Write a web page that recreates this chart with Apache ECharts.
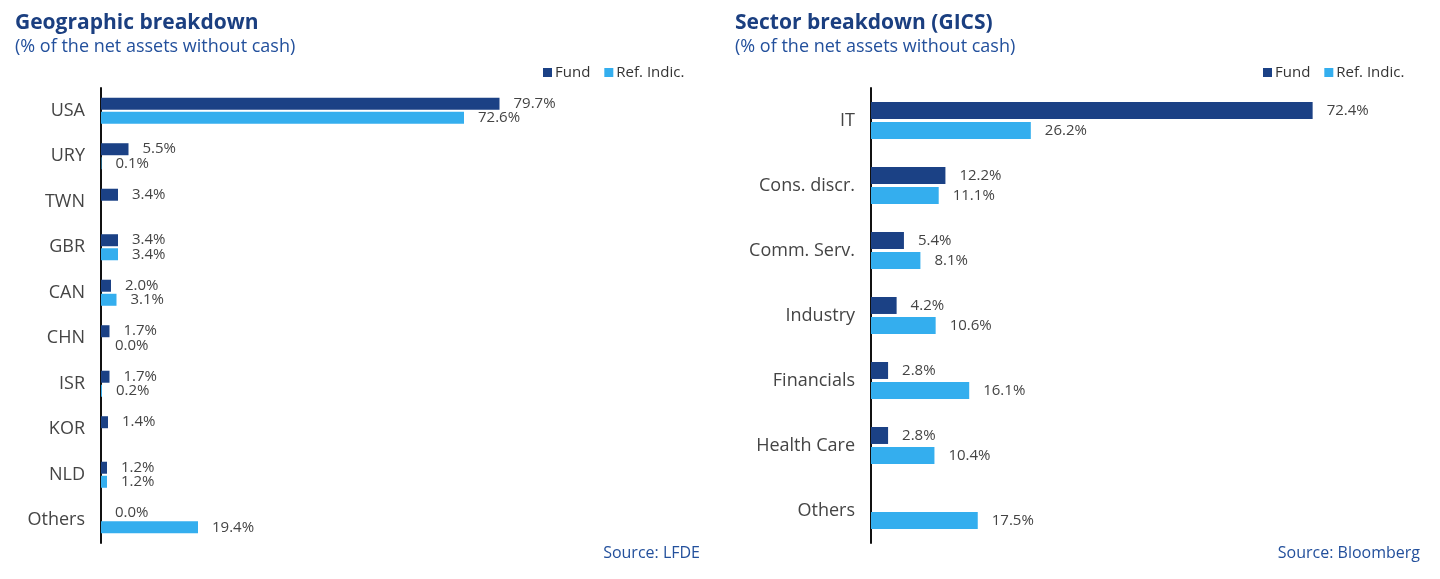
<!DOCTYPE html>
<html>
<head>
<meta charset="utf-8">
<script src="https://cdn.jsdelivr.net/npm/echarts@6/dist/echarts.min.js"></script>
<style>
html,body{margin:0;padding:0;background:#fff;}
#c{width:1440px;height:579px;}
</style>
</head>
<body>
<div id="c"></div>
<script>
const geoCategories = ['USA','URY','TWN','GBR','CAN','CHN','ISR','KOR','NLD','Others'];
const geoFund = [79.7, 5.5, 3.4, 3.4, 2.0, 1.7, 1.7, 1.4, 1.2, 0.0];
const geoRef  = [72.6, 0.1, null, 3.4, 3.1, 0.0, 0.2, null, 1.2, 19.4];

const secCategories = ['IT','Cons. discr.','Comm. Serv.','Industry','Financials','Health Care','Others'];
const secFund = [72.4, 12.2, 5.4, 4.2, 2.8, 2.8, null];
const secRef  = [26.2, 11.1, 8.1, 10.6, 16.1, 10.4, 17.5];

const FONT = 'Open Sans';
const C_FUND = '#1b4185';
const C_REF = '#34aeee';
const NAVY = '#1b3f80';
const SUB = '#23509c';

const chart = echarts.init(document.getElementById('c'), null, {renderer:'canvas'});

function lbl(){
  return {show:true, position:'right', distance:14, color:'#444', fontFamily:FONT, fontSize:15,
    formatter: p => (p.value==null||p.value==='-') ? '' : Number(p.value).toFixed(1)+'%'};
}
function catAxis(idx, cats){
  return {type:'category', gridIndex:idx, data:cats, inverse:true,
    axisLine:{show:true, lineStyle:{color:'#111', width:2}}, axisTick:{show:false},
    axisLabel:{color:'#444', fontFamily:FONT, fontSize:18, margin:16}};
}
function valAxis(idx, max){
  return {type:'value', gridIndex:idx, min:0, max:max, show:false, splitLine:{show:false}};
}

chart.setOption({
  animation:false,
  title:[
    {text:'Geographic breakdown', subtext:'(% of the net assets without cash)', left:10, top:8,
     textStyle:{color:NAVY, fontFamily:FONT, fontWeight:'bold', fontSize:21},
     subtextStyle:{color:SUB, fontFamily:FONT, fontSize:18}, itemGap:4},
    {text:'Sector breakdown (GICS)', subtext:'(% of the net assets without cash)', left:730, top:8,
     textStyle:{color:NAVY, fontFamily:FONT, fontWeight:'bold', fontSize:21},
     subtextStyle:{color:SUB, fontFamily:FONT, fontSize:18}, itemGap:4}
  ],
  legend:[
    {data:['Fund','Ref. Indic.'], left:538, top:60, icon:'rect', itemWidth:9, itemHeight:9, itemGap:14,
     textStyle:{color:'#333', fontFamily:FONT, fontSize:15, padding:[0,0,0,-2]}},
    {data:['Fund','Ref. Indic.'], left:1258, top:60, icon:'rect', itemWidth:9, itemHeight:9, itemGap:14,
     textStyle:{color:'#333', fontFamily:FONT, fontSize:15, padding:[0,0,0,-2]}}
  ],
  grid:[
    {left:101, top:88, width:500, height:455, containLabel:false},
    {left:871, top:88, width:488, height:455, containLabel:false}
  ],
  xAxis:[valAxis(0,100), valAxis(1,80)],
  yAxis:[catAxis(0, geoCategories), catAxis(1, secCategories)],
  series:[
    {name:'Fund', type:'bar', xAxisIndex:0, yAxisIndex:0, data:geoFund, barWidth:12, barGap:'17%',
     itemStyle:{color:C_FUND}, label:lbl()},
    {name:'Ref. Indic.', type:'bar', xAxisIndex:0, yAxisIndex:0, data:geoRef, barWidth:12, barGap:'17%',
     itemStyle:{color:C_REF}, label:lbl()},
    {name:'Fund', type:'bar', xAxisIndex:1, yAxisIndex:1, data:secFund, barWidth:17, barGap:'18%',
     itemStyle:{color:C_FUND}, label:lbl()},
    {name:'Ref. Indic.', type:'bar', xAxisIndex:1, yAxisIndex:1, data:secRef, barWidth:17, barGap:'18%',
     itemStyle:{color:C_REF}, label:lbl()}
  ],
  graphic:[
    {type:'text', right:740, top:545, style:{text:'Source: LFDE', fill:SUB, font:'16px "Open Sans"', textAlign:'right'}},
    {type:'text', right:20, top:545, style:{text:'Source: Bloomberg', fill:SUB, font:'16px "Open Sans"', textAlign:'right'}}
  ]
});
</script>
</body>
</html>
